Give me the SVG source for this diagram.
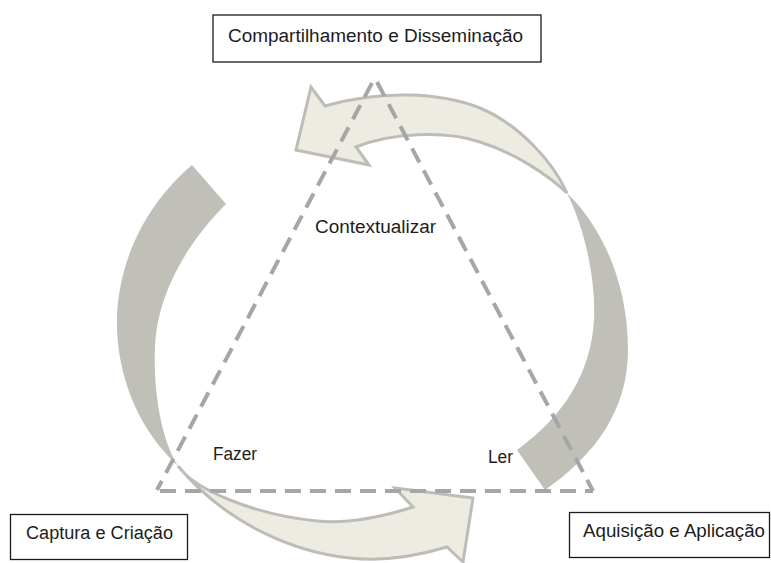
<svg xmlns="http://www.w3.org/2000/svg" width="771" height="563" viewBox="0 0 771 563">
<style>
.dark{fill:#c0c0b9;stroke:none}
.light{fill:#eeece2;stroke:#bdbdb7;stroke-width:3;stroke-linejoin:miter}
.tri{fill:none;stroke:#a6a6a6;stroke-width:4;stroke-dasharray:16 9}
.box{fill:#ffffff;stroke:#1a1a1a;stroke-width:1.3}
.t{font-family:"Liberation Sans",Arial,sans-serif;font-size:18px;fill:#1c1c1c}
</style>
<rect width="771" height="563" fill="#ffffff"/>
<g id="connectors">
  <path class="dark" d="M517,450 L545,490 C595,455 628,410 628,350 C628,280 600,225 567,193 C583,225 596,275 594,320 C591,372 565,415 517,450 Z"/>
  <path class="light" d="M567,193 C553,162 520,125 480,108 C440,92 380,90 325,106 L311,87 L296,150 L369,165 L356,147 C390,133 445,130 480,142 C515,153 548,175 567,193 Z"/>
  <path class="dark" d="M192,165 L226,204 C190,240 158,290 155,345 C153,395 162,440 178,466 C150,440 120,395 117,330 C115,265 145,205 192,165 Z"/>
  <path class="light" d="M178,466 C195,490 255,515 317,521 C350,524 385,516 413,507 L395,488 L473,498 L463,562 L447,547 C420,555 385,562 350,558 C300,553 230,528 178,466 Z"/>
</g>
<g id="triangle">
  <path class="tri" d="M372,83 L157,490"/>
  <path class="tri" d="M377,82 L593,491"/>
  <path class="tri" d="M160,491 L593,491"/>
</g>
<g id="contextualizar"><text class="t" x="315" y="233" textLength="121" lengthAdjust="spacingAndGlyphs">Contextualizar</text></g>
<g id="fazer"><text class="t" x="213" y="460" textLength="44" lengthAdjust="spacingAndGlyphs">Fazer</text></g>
<g id="ler"><text class="t" x="488" y="463" textLength="25" lengthAdjust="spacingAndGlyphs">Ler</text></g>
<g id="compartilhamento">
  <rect class="box" x="213" y="15" width="328" height="47"/>
  <text class="t" x="228" y="42" textLength="295" lengthAdjust="spacingAndGlyphs">Compartilhamento e Disseminação</text>
</g>
<g id="captura">
  <rect class="box" x="10.5" y="514.5" width="177" height="45"/>
  <text class="t" x="26" y="539" textLength="147" lengthAdjust="spacingAndGlyphs">Captura e Criação</text>
</g>
<g id="aquisicao">
  <rect class="box" x="569.5" y="512.5" width="200" height="45"/>
  <text class="t" x="583" y="537" textLength="182" lengthAdjust="spacingAndGlyphs">Aquisição e Aplicação</text>
</g>
</svg>
